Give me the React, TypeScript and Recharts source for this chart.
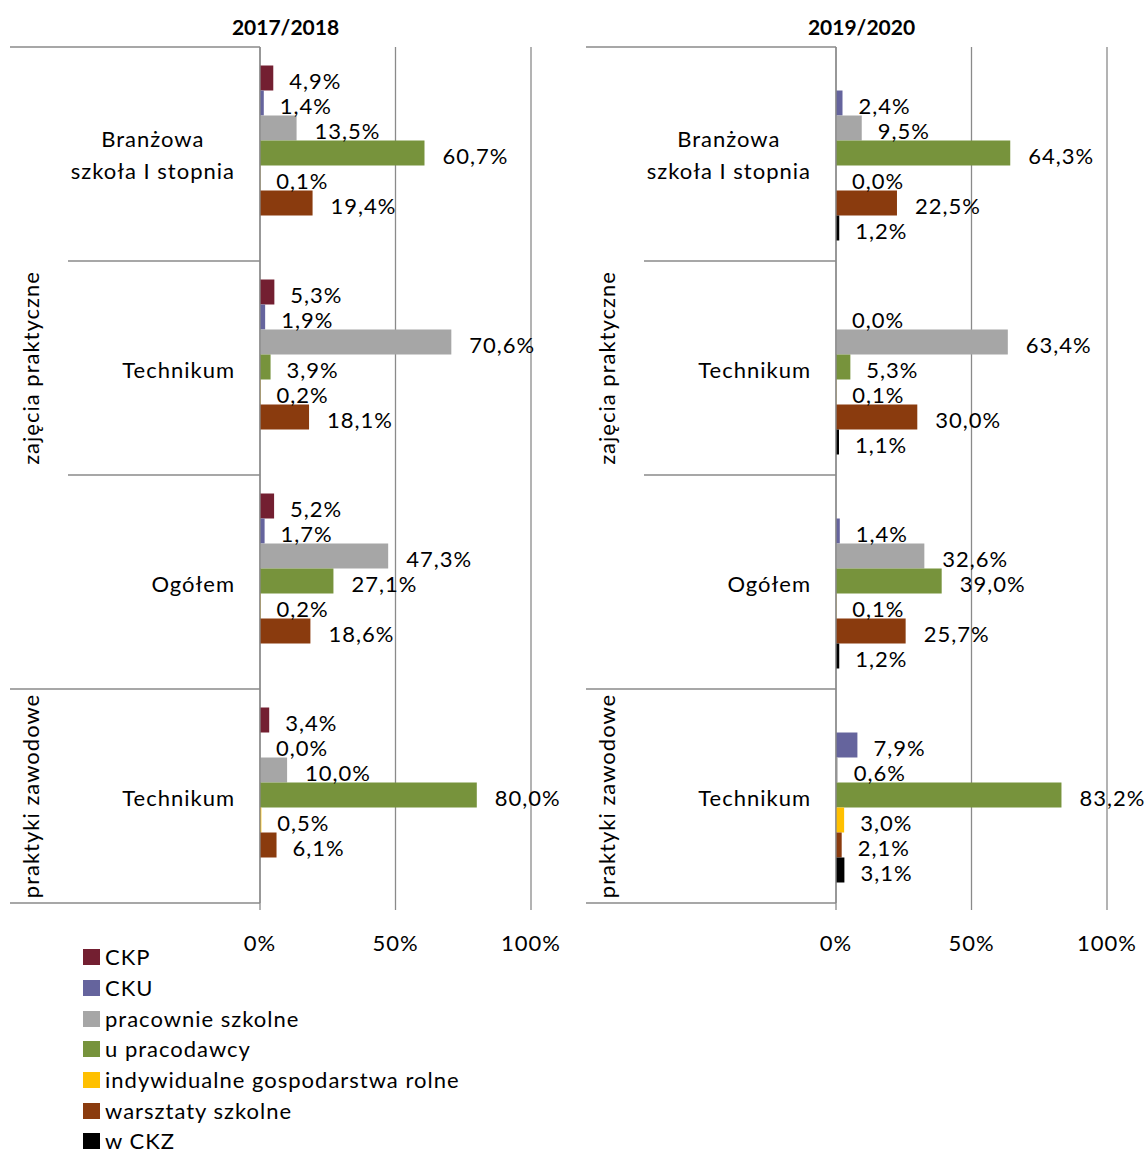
import { BarChart, Bar, XAxis, YAxis, CartesianGrid, LabelList } from "recharts";

const FONT = "Lato, 'Noto Sans', sans-serif";
const FONT_SIZE = 22;
const LS = 1; // letter spacing, the source renders text a little wide
const LINE = "#8a8a8a";

const categoryKeys = ["bs1", "tech", "ogolem", "techPz"];
const categoryLabels = [["Branżowa", "szkoła I stopnia"], ["Technikum"], ["Ogółem"], ["Technikum"]];
const categoryGroups = ["zajęcia praktyczne", "zajęcia praktyczne", "zajęcia praktyczne", "praktyki zawodowe"];

const seriesNames = [
  "CKP",
  "CKU",
  "pracownie szkolne",
  "u pracodawcy",
  "indywidualne gospodarstwa rolne",
  "warsztaty szkolne",
  "w CKZ",
];
const seriesColors = ["#731f31", "#65649d", "#a6a6a6", "#77933c", "#ffc000", "#8a3b0e", "#000000"];
const xTicks = [0, 50, 100];

// 2017/2018 (%), null = no bar
const ckp2017 = [4.9, 5.3, 5.2, 3.4];
const cku2017 = [1.4, 1.9, 1.7, 0.0];
const pracownie2017 = [13.5, 70.6, 47.3, 10.0];
const pracodawcy2017 = [60.7, 3.9, 27.1, 80.0];
const gospodarstwa2017 = [0.1, 0.2, 0.2, 0.5];
const warsztaty2017 = [19.4, 18.1, 18.6, 6.1];
const ckz2017 = [null, null, null, null];

// 2019/2020 (%)
const ckp2019 = [null, null, null, null];
const cku2019 = [2.4, 0.0, 1.4, 7.9];
const pracownie2019 = [9.5, 63.4, 32.6, 0.6];
const pracodawcy2019 = [64.3, 5.3, 39.0, 83.2];
const gospodarstwa2019 = [0.0, 0.1, 0.1, 3.0];
const warsztaty2019 = [22.5, 30.0, 25.7, 2.1];
const ckz2019 = [1.2, 1.1, 1.2, 3.1];

const panels = [
  {
    title: "2017/2018",
    series: [ckp2017, cku2017, pracownie2017, pracodawcy2017, gospodarstwa2017, warsztaty2017, ckz2017],
  },
  {
    title: "2019/2020",
    series: [ckp2019, cku2019, pracownie2019, pracodawcy2019, gospodarstwa2019, warsztaty2019, ckz2019],
  },
];

// chart geometry
const CHART_W = 571;
const CHART_H = 960;
const PLOT_TOP = 47;
const PLOT_LEFT = 260;
const PLOT_RIGHT = 531;
const PLOT_BOTTOM = 903;
const BAND = (PLOT_BOTTOM - PLOT_TOP) / categoryKeys.length;

function buildRows(series: (number | null)[][]) {
  return categoryKeys.map((key, i) => {
    const row: Record<string, any> = { key };
    series.forEach((values, s) => {
      row[`s${s}`] = values[i];
    });
    return row;
  });
}

let ctx: CanvasRenderingContext2D | null = null;
function textWidth(text: string) {
  if (!ctx) ctx = document.createElement("canvas").getContext("2d");
  if (!ctx) return text.length * FONT_SIZE * 0.5;
  ctx.font = `${FONT_SIZE}px ${FONT}`;
  return ctx.measureText(text).width + text.length * LS;
}

function formatPct(v: number) {
  return v.toFixed(1).replace(".", ",") + "%";
}

function CategoryTick(props: any) {
  const { y, index } = props;
  const top = y - BAND / 2;
  const group = categoryGroups[index];
  const groupStart = index === 0 || categoryGroups[index - 1] !== group;
  let span = 0;
  if (groupStart) {
    while (categoryGroups[index + span] === group) span++;
  }
  const isLast = index === categoryKeys.length - 1;
  const lines = categoryLabels[index];
  const textEnd = 235;
  const maxW = Math.max(...lines.map(textWidth));
  const gy = top + (span * BAND) / 2;
  return (
    <g fontFamily={FONT} fontSize={FONT_SIZE} fill="#000" letterSpacing={LS}>
      <line x1={groupStart ? 10 : 68} x2={PLOT_LEFT} y1={top} y2={top} stroke={LINE} strokeWidth={1.3} />
      {isLast && (
        <line x1={10} x2={PLOT_LEFT} y1={top + BAND} y2={top + BAND} stroke={LINE} strokeWidth={1.3} />
      )}
      {groupStart && (
        <text
          x={30}
          y={gy}
          textAnchor="middle"
          dominantBaseline="central"
          transform={`rotate(-90, 30, ${gy})`}
        >
          {group}
        </text>
      )}
      {lines.length === 1 ? (
        <text x={textEnd} y={y + 1} textAnchor="end" dominantBaseline="central">
          {lines[0]}
        </text>
      ) : (
        lines.map((line, i) => (
          <text
            key={line}
            x={textEnd - maxW / 2}
            y={y + (i - (lines.length - 1) / 2) * 32}
            textAnchor="middle"
            dominantBaseline="central"
          >
            {line}
          </text>
        ))
      )}
    </g>
  );
}

function PercentTick(props: any) {
  const { x, payload } = props;
  return (
    <text
      x={x}
      y={PLOT_BOTTOM + 39}
      textAnchor="middle"
      dominantBaseline="central"
      fontFamily={FONT}
      fontSize={FONT_SIZE}
      letterSpacing={LS}
      fill="#000"
    >
      {payload.value}%
    </text>
  );
}

function ValueLabel(props: any) {
  const { x, y, width, height, value } = props;
  if (value == null) return null;
  const text = formatPct(Number(value));
  return (
    <text
      x={Number(x) + Number(width) + 16 + (text.length - 4) * 2}
      y={Number(y) + Number(height) / 2 + 2}
      dominantBaseline="central"
      fontFamily={FONT}
      fontSize={FONT_SIZE}
      letterSpacing={LS}
      fill="#000"
    >
      {text}
    </text>
  );
}

// zero values still need a rect so their "0,0%" label is drawn
const zeroSize = (value: any) => (value === 0 ? 0.01 : 0);

function Panel({ title, series }: { title: string; series: (number | null)[][] }) {
  const rows = buildRows(series);
  return (
    <div style={{ position: "relative", width: CHART_W, height: CHART_H }}>
      <div
        style={{
          position: "absolute",
          top: 14,
          left: 0,
          width: CHART_W,
          textAlign: "center",
          fontFamily: FONT,
          fontWeight: 700,
          fontSize: 21,
          lineHeight: "26px",
        }}
      >
        {title}
      </div>
      <BarChart
        width={CHART_W}
        height={CHART_H}
        data={rows}
        layout="vertical"
        margin={{ top: PLOT_TOP, right: CHART_W - PLOT_RIGHT, bottom: 0, left: 0 }}
        barCategoryGap={18.5}
        barGap={0}
      >
        <CartesianGrid horizontal={false} stroke={LINE} strokeWidth={1.3} />
        <XAxis
          type="number"
          domain={[0, 100]}
          ticks={xTicks}
          axisLine={false}
          tickLine={{ stroke: LINE, strokeWidth: 1.3 }}
          tickSize={7}
          height={CHART_H - PLOT_BOTTOM}
          tick={<PercentTick />}
        />
        <YAxis
          type="category"
          dataKey="key"
          width={PLOT_LEFT}
          axisLine={{ stroke: LINE, strokeWidth: 1.3 }}
          tickLine={false}
          tick={<CategoryTick />}
          interval={0}
        />
        {seriesNames.map((name, s) => (
          <Bar
            key={name}
            dataKey={`s${s}`}
            name={name}
            fill={seriesColors[s]}
            minPointSize={zeroSize}
            isAnimationActive={false}
          >
            <LabelList dataKey={`s${s}`} content={<ValueLabel />} />
          </Bar>
        ))}
      </BarChart>
    </div>
  );
}

export default function App() {
  return (
    <div
      style={{
        position: "absolute",
        left: 0,
        top: 0,
        width: 1147,
        height: 1151,
        background: "#fff",
        fontFamily: FONT,
      }}
    >
      <div style={{ position: "absolute", left: 0, top: 0 }}>
        <Panel title={panels[0].title} series={panels[0].series} />
      </div>
      <div style={{ position: "absolute", left: 576, top: 0 }}>
        <Panel title={panels[1].title} series={panels[1].series} />
      </div>
      <div style={{ position: "absolute", left: 83, top: 942 }}>
        {seriesNames.map((name, i) => (
          <div key={name} style={{ display: "flex", alignItems: "center", height: 30.7 }}>
            <div style={{ width: 17, height: 16, background: seriesColors[i], marginRight: 5 }} />
            <span style={{ fontSize: FONT_SIZE, lineHeight: "26px", letterSpacing: LS }}>{name}</span>
          </div>
        ))}
      </div>
    </div>
  );
}
